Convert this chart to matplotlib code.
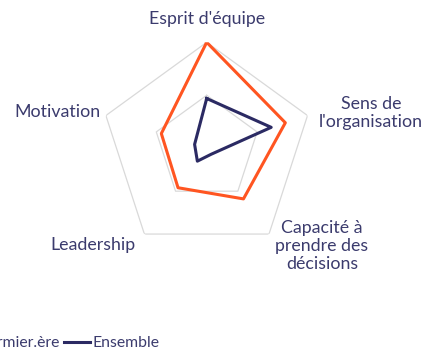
import numpy as np
import matplotlib
matplotlib.use("Agg")
import matplotlib.pyplot as plt

plt.rcParams['font.family'] = ['Lato', 'DejaVu Sans']

categories = ["Esprit d'équipe", "Sens de\nl'organisation", "Capacité à\nprendre des\ndécisions",
              "Leadership", "Motivation"]
infirmier = [100, 78, 59, 46, 45]
ensemble = [47, 64, 7, 15, 12]
series_names = ["Infirmier.ère", "Ensemble"]
grid_levels = [50, 100]

orange = "#FF5521"
navy = "#2B2A63"
text_col = "#3B3B6D"

W, H = 425, 351
fig = plt.figure(figsize=(W / 100, H / 100), dpi=100)

cx, cy, R = 206.7, 148.3, 106
ax = fig.add_axes([(cx - R) / W, (H - cy - R) / H, 2 * R / W, 2 * R / H], polar=True)
ax.set_theta_offset(np.pi / 2)
ax.set_theta_direction(-1)
ax.set_ylim(0, 100)
ax.axis("off")

n = len(categories)
ang = np.linspace(0, 2 * np.pi, n, endpoint=False)
closed = np.append(ang, ang[0])

for lev in grid_levels:
    ax.plot(closed, [lev] * (n + 1), color="#d9d9d9", lw=0.9, zorder=1)

ax.plot(closed, infirmier + infirmier[:1], color=orange, lw=2.2, label=series_names[0], zorder=3)
ax.plot(closed, ensemble + ensemble[:1], color=navy, lw=2.2, label=series_names[1], zorder=4)

# axis labels (pixel positions of label centres)
label_pos = [(207, 19), (371, 113), (322, 246), (93, 245), (57, 112)]
for lab, (x, y) in zip(categories, label_pos):
    fig.text(x / W, 1 - y / H, lab, ha="center", va="center", fontsize=12.8,
             color=text_col, linespacing=1.12)

fig.legend(loc="center right", bbox_to_anchor=(159 / W, 1 - 343 / H), ncol=2, frameon=False,
           fontsize=11.3, handlelength=1.65, handletextpad=0.15, columnspacing=0.25,
           labelcolor=text_col, borderaxespad=0, borderpad=0)

fig.savefig("out.png", dpi=100)
